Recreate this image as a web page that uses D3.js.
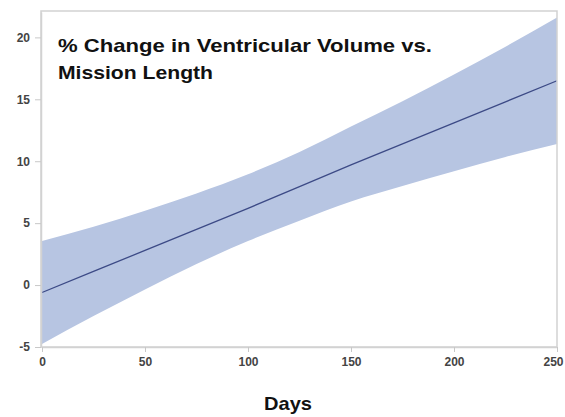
<!DOCTYPE html>
<html>
<head>
<meta charset="utf-8">
<script src="https://cdn.jsdelivr.net/npm/d3@7"></script>
<style>
  html, body { margin: 0; padding: 0; background: #fff; }
  svg { display: block; font-family: "Liberation Sans", Arial, sans-serif; }
</style>
</head>
<body>
<svg id="chart" width="565" height="417"></svg>
<script>
// Regression fit of % change in ventricular volume against mission length,
// with its confidence band.
const days      = [0, 25, 50, 75, 100, 125, 150, 175, 200, 225, 250];
const fitValues = [-0.6, 1.1, 2.8, 4.5, 6.2, 7.95, 9.7, 11.4, 13.1, 14.8, 16.5];
const upperBand = [3.55, 4.7, 6.0, 7.4, 8.95, 10.75, 12.8, 14.85, 17.0, 19.25, 21.6];
const lowerBand = [-4.75, -2.5, -0.35, 1.7, 3.55, 5.2, 6.75, 8.0, 9.2, 10.35, 11.4];

const xTicks = [0, 50, 100, 150, 200, 250];
const yTicks = [-5, 0, 5, 10, 15, 20];

const titleLines = ["% Change in Ventricular Volume vs.", "Mission Length"];
const xTitle = "Days";

const svg = d3.select("#chart");
const plot = { left: 42, right: 557, top: 12, bottom: 347 };

const x = d3.scaleLinear().domain([0, 250]).range([plot.left, plot.right]);
const y = d3.scaleLinear().domain([-5, 22.05]).range([plot.bottom, plot.top]);

const rows = days.map((d, i) => ({ d, fit: fitValues[i], hi: upperBand[i], lo: lowerBand[i] }));

// confidence band
svg.append("path")
  .datum(rows)
  .attr("fill", "#b7c5e2")
  .attr("d", d3.area()
    .x(r => x(r.d))
    .y0(r => y(r.lo))
    .y1(r => y(r.hi))
    .curve(d3.curveMonotoneX));

// fitted line
svg.append("path")
  .datum(rows)
  .attr("fill", "none")
  .attr("stroke", "#3c4a86")
  .attr("stroke-width", 1.3)
  .attr("d", d3.line()
    .x(r => x(r.d))
    .y(r => y(r.fit)));

// frame around the plotting area
svg.append("rect")
  .attr("x", plot.left - 1)
  .attr("y", plot.top - 1)
  .attr("width", plot.right - plot.left + 1)
  .attr("height", plot.bottom - plot.top + 1)
  .attr("fill", "none")
  .attr("stroke", "#d2d2d2")
  .attr("stroke-width", 1.5);

// axes (plain hyphen for negatives)
const plain = d => String(d);
const xAxis = svg.append("g")
  .attr("transform", `translate(0,${plot.bottom})`)
  .call(d3.axisBottom(x).tickValues(xTicks).tickFormat(plain)
    .tickSize(5).tickPadding(5).tickSizeOuter(0));
const yAxis = svg.append("g")
  .attr("transform", `translate(${plot.left - 1},0)`)
  .call(d3.axisLeft(y).tickValues(yTicks).tickFormat(plain)
    .tickSize(6).tickPadding(5).tickSizeOuter(0));

[xAxis, yAxis].forEach(g => {
  g.select(".domain").attr("stroke", "#d2d2d2").attr("stroke-width", 1.5);
  g.selectAll(".tick line").attr("stroke", "#c8c8c8");
  g.selectAll(".tick text")
    .attr("fill", "#444")
    .attr("font-size", 12)
    .attr("font-weight", "bold")
    .attr("font-family", "Liberation Sans, Arial, sans-serif");
});
// keep the last x label inside the page
xAxis.selectAll(".tick text").filter(d => d === 250).attr("dx", -4);

// title inside the plot
const titleWidths = [374, 155];
svg.append("text")
  .attr("x", 58)
  .attr("y", 52)
  .attr("font-size", 18.5)
  .attr("font-weight", "bold")
  .attr("fill", "#111")
  .selectAll("tspan")
  .data(titleLines)
  .join("tspan")
  .attr("x", 58)
  .attr("dy", (d, i) => i === 0 ? 0 : 26.5)
  .attr("textLength", (d, i) => titleWidths[i])
  .attr("lengthAdjust", "spacingAndGlyphs")
  .text(d => d);

// x axis title
svg.append("text")
  .attr("x", 288)
  .attr("y", 410)
  .attr("text-anchor", "middle")
  .attr("font-size", 18.5)
  .attr("font-weight", "bold")
  .attr("fill", "#111")
  .attr("textLength", 48)
  .attr("lengthAdjust", "spacingAndGlyphs")
  .text(xTitle);
</script>
</body>
</html>
